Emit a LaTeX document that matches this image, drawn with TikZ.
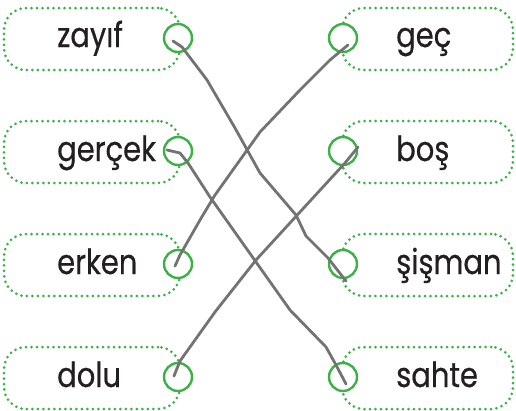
\documentclass[tikz,border=0pt]{standalone}
\usepackage{fontspec}
\setmainfont{Poppins}[FakeStretch=0.84, FakeBold=0.5]
\definecolor{mgreen}{RGB}{62,176,72}
\definecolor{wiregray}{RGB}{115,115,115}
\definecolor{txt}{RGB}{35,31,32}
\begin{document}
\begin{tikzpicture}[x=1pt,y=-1pt,
  wordbox/.style={draw=mgreen, line width=3pt, dash pattern=on 0pt off 5.5pt, line cap=round, rounded corners=22pt, minimum height=62pt, inner sep=0pt},
  dotc/.style={draw=mgreen, fill=white, line width=2.4pt, circle, minimum size=28pt, inner sep=0pt},
  word/.style={font=\fontsize{34.5}{34.5}\selectfont, text=txt, inner sep=0pt, anchor=base west},
  wire/.style={draw=wiregray, line width=2.8pt, line cap=round, line join=round}]
\useasboundingbox (0,0) rectangle (516,410);
% left boxes
\foreach \n/\y in {1/39,2/152,3/265,4/378}{
  \node[wordbox, minimum width=176pt] (L\n) at (92,\y) {};
  \node[dotc] (LC\n) at (178,\y-1) {};
}
\foreach \n/\y in {1/39,2/152,3/265,4/378}{
  \node[wordbox, minimum width=171pt] (R\n) at (427.5,\y) {};
  \node[dotc] (RC\n) at (343,\y-1) {};
}
% words
\node[word] (w1) at (57,47) {zayıf};
\node[word] (w2) at (57,161) {gerçek};
\node[word] (w3) at (57,274) {erken};
\node[word] (w4) at (57,387) {dolu};
\node[word] (w5) at (396,47) {geç};
\node[word] (w6) at (396,161) {boş};
\node[word] (w7) at (396,274) {şişman};
\node[word] (w8) at (396,387) {sahte};
% wire end points
\coordinate (a1) at (173,41);  \coordinate (b1) at (346,281);
\coordinate (a2) at (167,150); \coordinate (b2) at (346,384);
\coordinate (a3) at (175,266); \coordinate (b3) at (348,45);
\coordinate (a4) at (174,376); \coordinate (b4) at (358,147);
% wires
\draw[wire] (a1) -- (182,47) -- (207,80) -- (235,128) -- (260,173) -- (296,215) -- (306,236) -- (328,258) -- (b1);
\draw[wire] (a2) -- (180,153) -- (188,163) -- (210,197) -- (256,262) -- (290,310) -- (326,347) -- (336,365) -- (b2);
\draw[wire] (a3) -- (180,255) -- (200,220) -- (215,195) -- (260,132) -- (300,90) -- (330,60) -- (b3);
\draw[wire] (a4) -- (180,361) -- (215,312) -- (256,260) -- (311,200) -- (345,163) -- (b4);
\end{tikzpicture}
\end{document}
